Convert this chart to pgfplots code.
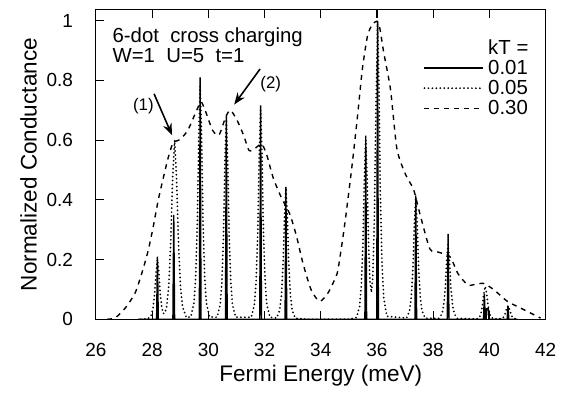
\documentclass[border=0pt]{standalone}
\usepackage{fontspec}
\setmainfont{Liberation Sans}
\usepackage{pgfplots}
\pgfplotsset{compat=1.18}
\usetikzlibrary{arrows.meta}
\begin{document}
\fontsize{10.3}{12}\selectfont
\begin{tikzpicture}
\begin{axis}[
  name=ax,
  scale only axis,
  width=227.5pt, height=156.5pt,
  xmin=26, xmax=42, ymin=0, ymax=1.036,
  xtick={26,28,...,42},
  ytick={0,0.2,0.4,0.6,0.8,1},
  yticklabels={0,0.2,0.4,0.6,0.8,1},
  xtick pos=both, ytick pos=left,
  tick align=inside,
  major tick length=4pt,
  minor tick num=0,
  axis line style={line width=0.6pt},
  every tick/.style={black, line width=0.6pt},
  /pgf/number format/assume math mode=true,
  tick label style={font=\fontsize{9.6}{11}\selectfont},
  xticklabel style={yshift=-8.5pt},
  yticklabel style={xshift=-8pt},
  xlabel={Fermi Energy (meV)},
  ylabel={Normalized Conductance},
  label style={font=\fontsize{11.4}{13}\selectfont},
  xlabel style={at={(axis description cs:0.5,-0.182)}, anchor=center},
  ylabel style={at={(axis description cs:-0.1495,0.5)}, anchor=center},
  legend image code/.code={\draw[#1] (0pt,0pt) -- (29.5pt,0pt);},
  legend style={draw=none, fill=none, at={(axis cs:37.64,0.94)}, anchor=north west,
    row sep=0.95pt, inner sep=0pt,
    nodes={inner sep=0.75pt, text height=7.2pt, text depth=0.5pt},
    /tikz/every odd column/.append style={column sep=1.5pt}},
  legend cell align=left,
]
\addlegendimage{empty legend}
\addlegendentry{kT =}

\addplot[black, line width=0.7pt] coordinates {
(27.5,0) (28.16,0) (28.19,0.21) (28.22,0)
(28.74,0) (28.77,0.35) (28.80,0)
(29.68,0) (29.71,0.81) (29.74,0)
(30.61,0) (30.64,0.68) (30.67,0)
(31.83,0) (31.86,0.716) (31.89,0)
(32.73,0) (32.76,0.443) (32.79,0)
(35.57,0) (35.60,0.615) (35.63,0)
(35.99,0) (36.02,0.998) (36.05,0)
(37.35,0) (37.38,0.415) (37.41,0)
(38.50,0) (38.53,0.286) (38.56,0)
(39.79,0) (39.82,0.085) (39.85,0) (39.88,0) (39.90,0.035) (39.96,0.035) (39.98,0)
(40.63,0) (40.66,0.045) (40.69,0) (41,0)
};
\addlegendentry{0.01}

\addplot[black, line width=1pt, line cap=round, dash pattern=on 0pt off 2pt] coordinates {
(27.6,0) (27.85,0.002) (27.97,0.014) (28.03,0.036) (28.09,0.084) (28.14,0.157) (28.19,0.2)
(28.24,0.157) (28.29,0.084) (28.35,0.036) (28.39,0.020) (28.45,0.02) (28.52,0.043) (28.59,0.109)
(28.66,0.252) (28.73,0.472) (28.80,0.6) (28.87,0.472) (28.94,0.252) (29.01,0.109) (29.08,0.043)
(29.22,0.006) (29.38,0.008) (29.49,0.055) (29.55,0.141) (29.61,0.328) (29.66,0.613) (29.71,0.78)
(29.76,0.613) (29.81,0.328) (29.87,0.141) (29.93,0.055) (30.04,0.008)
(30.31,0.007) (30.42,0.048) (30.48,0.121) (30.54,0.281) (30.59,0.527) (30.64,0.67)
(30.69,0.527) (30.74,0.281) (30.80,0.121) (30.86,0.048) (30.97,0.007)
(31.53,0.007) (31.64,0.05) (31.70,0.127) (31.76,0.294) (31.81,0.55) (31.86,0.70)
(31.91,0.55) (31.96,0.294) (32.02,0.127) (32.08,0.05) (32.19,0.007)
(32.43,0.004) (32.54,0.031) (32.60,0.08) (32.66,0.185) (32.71,0.346) (32.76,0.44)
(32.81,0.346) (32.86,0.185) (32.92,0.08) (32.98,0.031) (33.09,0.004) (33.5,0)
(35.0,0) (35.27,0.006) (35.38,0.043) (35.44,0.109) (35.5,0.252) (35.55,0.472) (35.6,0.6)
(35.65,0.472) (35.7,0.252) (35.75,0.127) (35.8,0.09) (35.85,0.14) (35.9,0.308) (35.95,0.629)
(36.02,0.99) (36.07,0.778) (36.12,0.416) (36.18,0.179) (36.24,0.07) (36.35,0.01)
(37.05,0.004) (37.16,0.029) (37.22,0.074) (37.28,0.172) (37.33,0.322) (37.38,0.41)
(37.43,0.322) (37.48,0.172) (37.54,0.074) (37.60,0.029) (37.71,0.004)
(38.20,0.003) (38.31,0.018) (38.37,0.045) (38.43,0.105) (38.48,0.197) (38.53,0.25)
(38.58,0.197) (38.63,0.105) (38.69,0.045) (38.75,0.018) (38.86,0.003)
(39.55,0.001) (39.65,0.008) (39.7,0.02) (39.75,0.046) (39.8,0.086) (39.85,0.11)
(39.9,0.086) (39.95,0.046) (40.0,0.02) (40.05,0.008) (40.15,0.001)
(40.46,0.003) (40.51,0.008) (40.56,0.019) (40.61,0.035) (40.66,0.045)
(40.71,0.035) (40.76,0.019) (40.81,0.008) (40.86,0.003) (41,0)
};
\addlegendentry{0.05}

\addplot[black, line width=0.7pt, dash pattern=on 2.5pt off 2.5pt, smooth, tension=0.4] coordinates {
(26.4,0) (26.69,0.005) (27.04,0.037) (27.39,0.087) (27.63,0.153) (27.86,0.23) (28.04,0.31)
(28.22,0.40) (28.39,0.47) (28.57,0.54) (28.74,0.59) (28.9,0.598) (29.03,0.605) (29.27,0.633)
(29.56,0.694) (29.74,0.728) (29.91,0.694) (30.15,0.633) (30.38,0.617) (30.62,0.678) (30.79,0.70)
(31.03,0.665) (31.26,0.615) (31.45,0.565) (31.67,0.573) (31.9,0.587) (32.08,0.55) (32.31,0.473)
(32.6,0.407) (32.9,0.352) (33.14,0.277) (33.37,0.186) (33.66,0.098) (33.96,0.06) (34.25,0.087)
(34.48,0.13) (34.6,0.16) (34.75,0.25) (34.9,0.352) (35.13,0.529) (35.31,0.683) (35.48,0.838)
(35.66,0.948) (35.83,0.987) (36.0,0.998) (36.1,0.975) (36.24,0.893) (36.48,0.77) (36.71,0.57)
(37.02,0.484) (37.3,0.435) (37.53,0.352) (37.88,0.236) (38.18,0.225) (38.6,0.209) (38.88,0.153)
(39.23,0.115) (39.5,0.117) (39.8,0.12) (40.17,0.098) (40.64,0.06) (41.23,0.032) (41.82,0.004)
};
\addlegendentry{0.30}

\node[anchor=base west, inner sep=0pt] at (axis cs:26.58,0.927) {6-dot\ \ cross charging};
\node[anchor=base west, inner sep=0pt] at (axis cs:26.58,0.861) {W=1\ \ U=5\ \ t=1};
\node[font=\fontsize{8.5}{10}\selectfont] at (axis cs:27.69,0.715) {(1)};
\node[font=\fontsize{8.5}{10}\selectfont] at (axis cs:32.22,0.788) {(2)};
\draw[-{Stealth[length=6pt,width=4.5pt]}, line width=0.8pt] (axis cs:28.07,0.755) -- (axis cs:28.71,0.616);
\draw[-{Stealth[length=6pt,width=4.5pt]}, line width=0.8pt] (axis cs:31.84,0.838) -- (axis cs:30.92,0.719);
\end{axis}
\path ([xshift=-48.5pt,yshift=-35.5pt]ax.south west) rectangle ([xshift=5.5pt,yshift=5pt]ax.north east);
\end{tikzpicture}
\end{document}
